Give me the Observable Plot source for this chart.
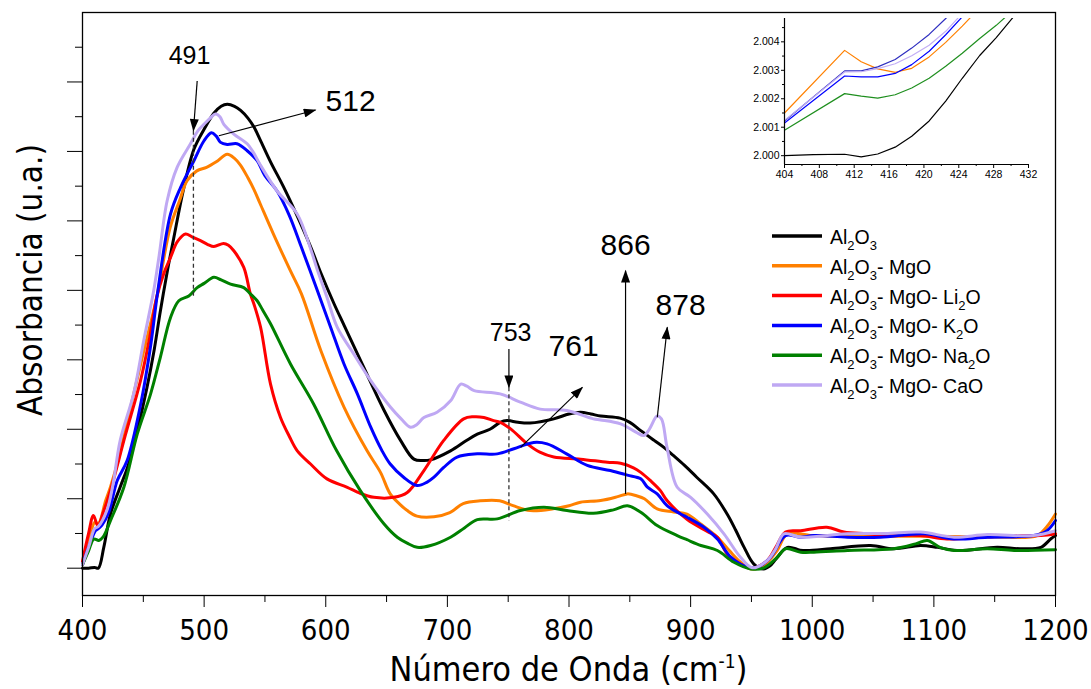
<!DOCTYPE html>
<html><head><meta charset="utf-8">
<script src="https://cdn.jsdelivr.net/npm/d3@7"></script>
<script src="https://cdn.jsdelivr.net/npm/@observablehq/plot@0.6"></script>
<style>
html,body{margin:0;padding:0;background:#fff;}
#wrap{position:relative;width:1091px;height:689px;overflow:hidden;background:#fff;}
#main{position:absolute;left:0;top:0;}
#inset{position:absolute;left:730px;top:0;}
</style></head>
<body><div id="wrap"><div id="main"></div><div id="inset"></div></div>
<script>
// ---------- data ----------
const seriesNames = ["Al_2O_3", "Al_2O_3- MgO", "Al_2O_3- MgO- Li_2O", "Al_2O_3- MgO- K_2O", "Al_2O_3- MgO- Na_2O", "Al_2O_3- MgO- CaO"];
const seriesColors = ["#000000", "#ff8000", "#ff0000", "#0000ff", "#008000", "#bfa8f3"];

const absAl2O3 = [[400,0],[405,0],[410,0.001],[413,0],[417.5,0.03],[423,0.078],[431,0.117],[437,0.145],[445,0.198],[453,0.26],[459,0.315],[464,0.37],[470,0.43],[475,0.475],[483,0.545],[491.6,0.603],[500,0.632],[508,0.655],[514,0.665],[519,0.668],[525,0.665],[530,0.659],[536,0.648],[541,0.635],[546,0.617],[554.6,0.585],[565,0.55],[575,0.513],[587.5,0.463],[596,0.425],[607,0.38],[615,0.35],[631,0.29],[648,0.227],[661.5,0.184],[672.5,0.157],[680,0.155],[686,0.156],[702.6,0.169],[715,0.183],[724.6,0.193],[735,0.2],[743.4,0.21],[749,0.2125],[758,0.21],[768,0.209],[787.5,0.215],[800,0.222],[809.5,0.2245],[818,0.222],[826,0.219],[842,0.216],[850,0.21],[859,0.198],[870,0.184],[878,0.174],[886,0.162],[895,0.148],[905,0.131],[919,0.107],[930,0.078],[937,0.055],[944,0.03],[952,0.006],[960,-0.001],[965,0.003],[970,0.013],[979.5,0.03],[990,0.026],[996,0.0255],[1015,0.028],[1048,0.0327],[1067,0.028],[1089,0.0327],[1103,0.03],[1119,0.0255],[1152,0.03],[1171,0.028],[1188,0.03],[1196,0.042],[1200,0.047]];

const absMgO = [[400,0.005],[405,0.035],[410,0.066],[413,0.064],[419,0.097],[423,0.117],[430,0.16],[440,0.235],[450,0.31],[461,0.39],[472,0.49],[480,0.53],[486,0.558],[494,0.572],[502,0.577],[510,0.585],[519,0.596],[525,0.59],[530,0.58],[536,0.562],[541,0.545],[546,0.525],[557,0.481],[571,0.428],[580,0.395],[596,0.313],[615,0.232],[634,0.169],[645,0.138],[653,0.107],[661,0.092],[667,0.083],[675,0.075],[689,0.074],[702,0.08],[713,0.093],[727,0.097],[743,0.097],[754,0.09],[768,0.083],[787,0.0855],[800,0.09],[809.5,0.095],[826,0.0974],[840,0.103],[848,0.107],[856,0.104],[862,0.1],[872.5,0.0855],[886,0.081],[897,0.078],[908,0.064],[922,0.0446],[932,0.025],[941,0.0086],[949,-0.001],[960,0.004],[971,0.025],[979.5,0.0495],[1000,0.047],[1050,0.046],[1100,0.046],[1150,0.045],[1185,0.047],[1193,0.06],[1200,0.078]];

const absLi2O = [[400,0.01],[405,0.05],[409,0.076],[412.6,0.061],[417,0.08],[423,0.112],[435,0.19],[447.7,0.27],[455,0.33],[461,0.39],[467,0.425],[472.4,0.4475],[478,0.47],[484.7,0.481],[490,0.477],[497,0.4715],[503,0.466],[508,0.463],[516,0.4676],[520,0.465],[524.4,0.457],[532.6,0.433],[538,0.395],[541,0.38],[546.4,0.347],[554.6,0.265],[562.8,0.217],[570,0.19],[576.6,0.169],[587.5,0.15],[601,0.1286],[617.7,0.1165],[628,0.108],[639.6,0.102],[656,0.102],[667,0.109],[680.7,0.1406],[697,0.184],[713.4,0.215],[721.5,0.218],[730,0.217],[738,0.2125],[743.4,0.21],[752,0.2006],[765.7,0.179],[776,0.167],[787.5,0.16],[809.5,0.157],[831.5,0.1525],[842.4,0.151],[853,0.1445],[859,0.138],[867,0.126],[875,0.112],[880.6,0.0974],[897,0.0704],[913.7,0.053],[922,0.0446],[930,0.0207],[941,0.006],[950.6,0],[963,0.011],[970,0.03],[978,0.052],[990.5,0.054],[1012,0.059],[1026,0.052],[1045,0.0495],[1061.5,0.047],[1089,0.047],[1110.8,0.042],[1138.5,0.0446],[1166,0.047],[1188,0.047],[1200,0.0495]];

const absK2O = [[400,0.005],[405,0.03],[410.7,0.054],[413,0.057],[416,0.062],[421.6,0.0806],[428.5,0.126],[436.7,0.155],[447.7,0.235],[456,0.32],[462,0.4],[472.4,0.51],[480.6,0.548],[491.6,0.5866],[499.8,0.615],[506,0.627],[510,0.622],[513.5,0.613],[519,0.61],[527,0.611],[535.4,0.601],[543.6,0.5866],[550,0.565],[560,0.543],[570,0.508],[580,0.462],[593,0.4],[604,0.347],[615,0.294],[626,0.251],[637,0.203],[646,0.17],[653,0.15],[664,0.131],[675,0.119],[683.4,0.124],[689,0.131],[697,0.145],[708,0.16],[724.6,0.1646],[741,0.1646],[754.7,0.172],[771,0.181],[782,0.179],[798,0.1646],[815,0.148],[834,0.1406],[848,0.134],[859,0.1286],[864.5,0.1166],[872.5,0.107],[880.6,0.09],[891.8,0.078],[897,0.0734],[911,0.059],[922,0.042],[933,0.0158],[946.6,0.0014],[955,0.0014],[965.8,0.0158],[978,0.047],[990.5,0.0446],[1001,0.047],[1029,0.0446],[1056,0.0446],[1092,0.0495],[1116.6,0.042],[1144,0.0446],[1182,0.047],[1193,0.054],[1200,0.0686]];

const absNa2O = [[400,0.005],[405,0.025],[409.3,0.042],[413.4,0.04],[417,0.045],[423,0.0686],[434,0.1165],[445,0.193],[456,0.251],[464,0.3036],[472.4,0.361],[479.2,0.385],[487.4,0.392],[494.3,0.404],[500,0.41],[508,0.4187],[514,0.415],[521.7,0.409],[532.6,0.404],[538,0.395],[543.6,0.385],[548,0.372],[554.6,0.352],[571,0.294],[590,0.2365],[609,0.169],[628.3,0.112],[647.8,0.064],[658.8,0.0446],[667,0.036],[675.2,0.03],[686.2,0.0327],[702.6,0.0446],[714,0.058],[724.6,0.07],[741,0.071],[760,0.083],[779.4,0.0878],[798.3,0.083],[820,0.079],[836.5,0.084],[848,0.09],[859,0.0806],[872.5,0.0614],[889,0.047],[897,0.041],[908.5,0.0327],[922,0.0255],[935.6,0.0086],[949.4,-0.001],[960.3,0.0006],[971.3,0.0158],[978,0.028],[990.5,0.023],[1001.4,0.023],[1029,0.0255],[1067,0.028],[1085,0.035],[1094.6,0.04],[1105,0.03],[1116.6,0.0255],[1144,0.028],[1166,0.0255],[1200,0.0265]];

const absCaO = [[400,0.005],[405,0.03],[410,0.057],[413,0.06],[420,0.083],[425,0.12],[431,0.184],[442,0.251],[450.4,0.328],[458.6,0.4],[463,0.45],[469.6,0.529],[477.8,0.577],[488.8,0.611],[495,0.63],[499.8,0.639],[505,0.648],[509.4,0.654],[513,0.65],[516.2,0.639],[524.4,0.625],[535.4,0.611],[540,0.6],[546.4,0.58],[560,0.543],[576.5,0.51],[587.5,0.46],[593,0.43],[601,0.39],[609.4,0.347],[623,0.3085],[637,0.27],[653.3,0.2317],[662,0.215],[669.7,0.203],[675,0.207],[680.7,0.217],[691.5,0.2245],[702.6,0.241],[711,0.265],[716,0.262],[722,0.2557],[743.4,0.251],[760,0.239],[776.3,0.229],[798.3,0.227],[820,0.215],[826,0.2135],[842.4,0.2078],[855,0.196],[861.6,0.191],[866,0.2],[872.5,0.219],[876,0.215],[880.6,0.174],[889,0.1165],[900,0.102],[913.7,0.078],[927.4,0.0495],[941,0.0158],[950.6,0.0006],[963,0.011],[970,0.028],[976.7,0.0495],[990.5,0.0446],[1029,0.0495],[1060,0.05],[1089,0.052],[1116.6,0.0446],[1144,0.0485],[1182,0.047],[1200,0.054]];

const xMajorTicks = [400, 500, 600, 700, 800, 900, 1000, 1100, 1200];
const xMinorTicks = [450, 550, 650, 750, 850, 950, 1050, 1150];
const yMajorTicks = [0, 0.1, 0.2, 0.3, 0.4, 0.5, 0.6, 0.7];
const yMinorTicks = [0.05, 0.15, 0.25, 0.35, 0.45, 0.55, 0.65, 0.75];

// peak annotations (wavenumber, absorbance units)
const peakLabels = [
  {label: "491", w: 488, a: 0.7377, big: false},
  {label: "512", w: 620.4, a: 0.6724, big: true},
  {label: "753", w: 752, a: 0.339, big: false},
  {label: "761", w: 803.8, a: 0.3188, big: true},
  {label: "866", w: 846.5, a: 0.4643, big: true},
  {label: "878", w: 891.8, a: 0.378, big: true}
];
const peakArrows = [
  {w1: 494.3, a1: 0.7015, w2: 491.2, a2: 0.6298},
  {w1: 512.1, a1: 0.6226, w2: 591.6, a2: 0.6596},
  {w1: 750.6, a1: 0.3157, w2: 750.6, a2: 0.2604},
  {w1: 760.2, a1: 0.174, w2: 811, a2: 0.2604},
  {w1: 846.5, a1: 0.107, w2: 846.5, a2: 0.4283},
  {w1: 872.6, a1: 0.2173, w2: 880.8, a2: 0.3468}
];
const peakGuides = [
  {w: 491.2, a1: 0.6298, a2: 0.392},
  {w: 750.6, a1: 0.2604, a2: 0.0686}
];

// inset data
const insetNames = ["Al2O3-MgO", "navy", "CaO", "K2O", "Na2O", "Al2O3"];
const insetColors = ["#ff8000", "#2e2ec0", "#c2aef5", "#0000ff", "#1f8f1f", "#000000"];
const insetMgO = [[404,2.0015],[410.9,2.0037],[412.8,2.0033],[414.7,2.00305],[416.7,2.00293],[418.6,2.00307],[420.6,2.00347],[422.5,2.00398],[424.4,2.00455],[426.4,2.0052]];
const insetNavy = [[404,2.00122],[410.9,2.00298],[412.8,2.00298],[414.7,2.00312],[416.7,2.00338],[418.6,2.00378],[420.6,2.00426],[422.5,2.00482],[424.4,2.0054]];
const insetCaO = [[404,2.00124],[410.9,2.00294],[412.8,2.00295],[414.7,2.00306],[416.7,2.00323],[418.6,2.00351],[420.6,2.00388],[422.5,2.00437],[424.4,2.005]];
const insetK2O = [[404,2.00115],[410.9,2.0028],[412.8,2.00277],[414.7,2.00277],[416.7,2.00289],[418.6,2.0032],[420.6,2.00367],[422.5,2.00425],[424.4,2.00488],[426.4,2.0055]];
const insetNa2O = [[404,2.00089],[410.9,2.00218],[412.8,2.00209],[414.7,2.00202],[416.7,2.00214],[418.6,2.00238],[420.6,2.00272],[422.5,2.00314],[424.4,2.0036],[426.4,2.00412],[428.3,2.00458],[430.2,2.0051]];
const insetAl2O3 = [[404,2.0],[407.3,2.00004],[410.9,2.00005],[412.8,1.99996],[414.7,2.00006],[416.7,2.0003],[418.6,2.00068],[420.6,2.00122],[422.5,2.00192],[424.4,2.00272],[426.4,2.00352],[428.3,2.00415],[430.2,2.00485]];
const insetXTicks = [404, 408, 412, 416, 420, 424, 428, 432];
const insetXMinor = [406, 410, 414, 418, 422, 426, 430];
const insetYTicks = [2.000, 2.001, 2.002, 2.003, 2.004];
const insetYMinor = [2.0005, 2.0015, 2.0025, 2.0035, 2.0045];

// ---------- build ----------
const NARROW = "'DejaVu Sans Condensed', 'Liberation Sans Narrow', 'Arial Narrow', sans-serif";
const SANS = "'Liberation Sans', Arial, Helvetica, sans-serif";

const mainSeries = [absAl2O3, absMgO, absLi2O, absK2O, absNa2O, absCaO];
const rows = mainSeries.flatMap((pts, i) => pts.map(([w, a]) => ({series: seriesNames[i], w, a})));

const chart = Plot.plot({
  width: 1091, height: 689,
  marginLeft: 82, marginRight: 36, marginTop: 12, marginBottom: 94,
  x: {domain: [400, 1200]},
  y: {domain: [-0.0393, 0.8]},
  color: {domain: seriesNames, range: seriesColors},
  style: {fontFamily: NARROW, fontSize: "29px", color: "black", background: "white", overflow: "visible"},
  marks: [
    Plot.line(rows, {x: "w", y: "a", z: "series", stroke: "series", strokeWidth: 3, curve: "catmull-rom"}),
    Plot.link(peakGuides, {x1: "w", x2: "w", y1: "a1", y2: "a2", stroke: "#333", strokeWidth: 1.3, strokeDasharray: "4,3"}),
    Plot.link(peakArrows, {x1: "w1", y1: "a1", x2: "w2", y2: "a2", stroke: "black", strokeWidth: 1.2}),
    Plot.text(peakLabels.filter(d => !d.big), {x: "w", y: "a", text: "label", fontSize: 25, fontFamily: SANS, fill: "black"}),
    Plot.text(peakLabels.filter(d => d.big), {x: "w", y: "a", text: "label", fontSize: 30, fontFamily: SANS, fill: "black"}),
    Plot.axisX({ticks: xMajorTicks, tickSize: 12, tickPadding: 12, label: null, tickFormat: d => String(d)}),
    Plot.axisX({ticks: xMinorTicks, tickSize: 7, label: null, tickFormat: () => ""}),
    Plot.axisY({ticks: yMajorTicks, tickSize: 15, label: null, tickFormat: () => ""}),
    Plot.axisY({ticks: yMinorTicks, tickSize: 7, label: null, tickFormat: () => ""}),
    Plot.frame({stroke: "black", strokeWidth: 1.3})
  ]
});
document.getElementById("main").appendChild(chart);

const svg = d3.select(chart);
// arrowhead marker
const defs = svg.insert("defs", ":first-child");
defs.append("marker").attr("id", "ahead").attr("viewBox", "0 0 14 10")
  .attr("refX", 13).attr("refY", 5).attr("markerWidth", 14).attr("markerHeight", 9)
  .attr("markerUnits", "userSpaceOnUse").attr("orient", "auto")
  .append("path").attr("d", "M0,0L14,5L0,10Z").attr("fill", "black");
svg.selectAll('g[aria-label="link"]').filter((d, i) => i === 1)
  .selectAll("path").attr("marker-end", "url(#ahead)");

// axis titles
const xt = svg.append("text").attr("x", 568.5).attr("y", 681).attr("text-anchor", "middle")
  .attr("font-family", NARROW).attr("font-size", 34).attr("fill", "black");
xt.append("tspan").text("Número de Onda (cm");
xt.append("tspan").attr("dy", -13).attr("font-size", 19).text("-1");
xt.append("tspan").attr("dy", 13).text(")");
svg.append("text").attr("transform", "translate(42,280) rotate(-90)").attr("text-anchor", "middle")
  .attr("font-family", NARROW).attr("font-size", 33).attr("fill", "black").text("Absorbancia (u.a.)");

// legend
const lg = svg.append("g").attr("text-anchor", "start");
seriesNames.forEach((name, i) => {
  const yy = 236 + i * 29.8;
  lg.append("line").attr("x1", 772).attr("x2", 822).attr("y1", yy).attr("y2", yy)
    .attr("stroke", seriesColors[i]).attr("stroke-width", 3.5);
  const t = lg.append("text").attr("x", 830).attr("y", yy + 8).attr("font-family", SANS)
    .attr("text-anchor", "start").attr("font-size", 19.5).attr("fill", "black");
  const parts = name.split(/_(\d)/);
  let shifted = false;
  parts.forEach((p, k) => {
    if (!p) return;
    if (k % 2 === 1) {
      t.append("tspan").attr("dy", shifted ? 0 : 6).attr("font-size", 13).text(p);
      shifted = true;
    } else {
      t.append("tspan").attr("dy", shifted ? -6 : 0).text(p);
      shifted = false;
    }
  });
});

// ---------- inset ----------
const insetSeries = [insetMgO, insetNavy, insetCaO, insetK2O, insetNa2O, insetAl2O3];
const insetRows = insetSeries.flatMap((pts, i) => pts.map(([w, a]) => ({series: insetNames[i], w, a})));
const yLo = 1.99969, yHi = 2.00482;
const inset = Plot.plot({
  width: 310, height: 185,
  marginLeft: 54, marginRight: 12, marginTop: 18, marginBottom: 21,
  x: {domain: [404, 432]},
  y: {domain: [yLo, yHi]},
  color: {domain: insetNames, range: insetColors},
  style: {fontFamily: SANS, fontSize: "10.5px", color: "black", background: "transparent", overflow: "visible"},
  marks: [
    Plot.line(insetRows, {x: "w", y: "a", z: "series", stroke: "series", strokeWidth: 1.2, clip: true}),
    Plot.ruleX([404], {stroke: "black", strokeWidth: 1.2}),
    Plot.ruleY([yLo], {stroke: "black", strokeWidth: 1.2}),
    Plot.axisX({ticks: insetXTicks, tickSize: 4, tickPadding: 2, label: null, tickFormat: d => String(d)}),
    Plot.axisX({ticks: insetXMinor, tickSize: 2, label: null, tickFormat: () => ""}),
    Plot.axisY({ticks: insetYTicks, tickSize: 3, tickPadding: 2, label: null, tickFormat: d3.format(".3f")}),
    Plot.axisY({ticks: insetYMinor, tickSize: 2, label: null, tickFormat: () => ""})
  ]
});
document.getElementById("inset").appendChild(inset);
</script>
</body></html>
